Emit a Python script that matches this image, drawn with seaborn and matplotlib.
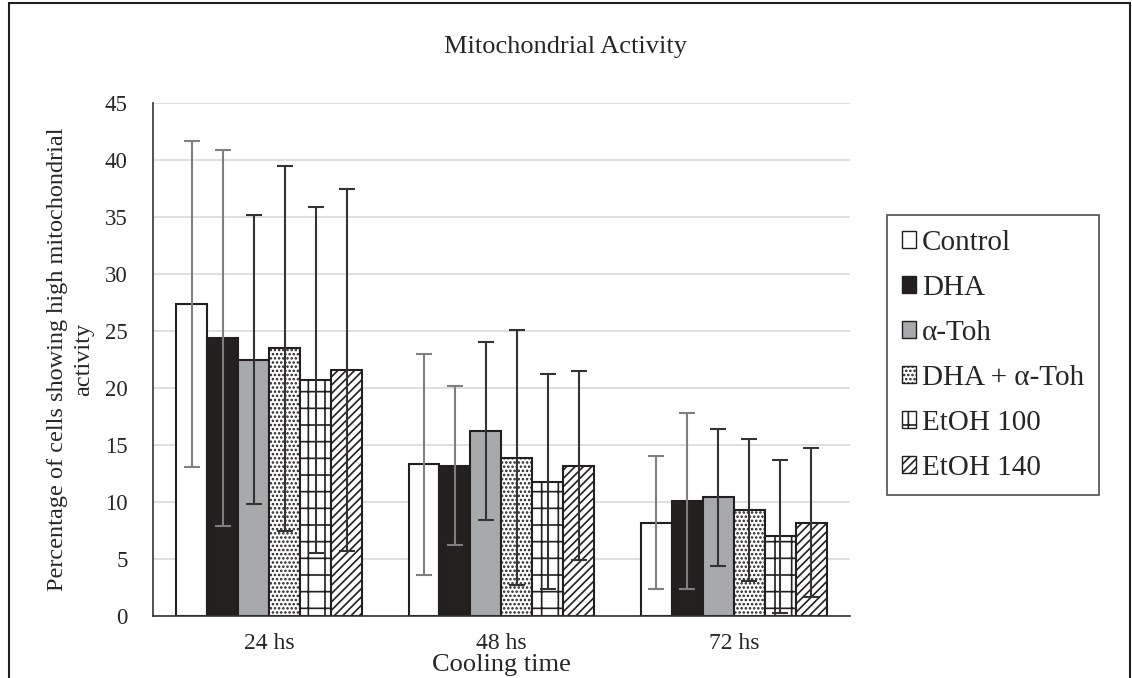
import numpy as np
import pandas as pd
import matplotlib
matplotlib.use("Agg")
import matplotlib.pyplot as plt
from matplotlib.patches import Patch, Rectangle
import seaborn as sns

# Datos
tiempos = ["24 hs", "48 hs", "72 hs"]
tratamientos = ["Control", "DHA", "α-Toh", "DHA + α-Toh", "EtOH 100", "EtOH 140"]

media_24 = [27.4, 24.4, 22.5, 23.5, 20.7, 21.6]
media_48 = [13.3, 13.2, 16.2, 13.9, 11.8, 13.2]
media_72 = [8.2, 10.1, 10.4, 9.3, 7.0, 8.2]

de_24 = [14.3, 16.5, 12.7, 16.0, 15.2, 15.9]
de_48 = [9.7, 7.0, 7.8, 11.2, 9.4, 8.3]
de_72 = [5.8, 7.7, 6.0, 6.2, 6.7, 6.5]

# Estilo de cada serie
colores = ["white", "#231f20", "#a7a9ac", "white", "white", "white"]
tramas = ["", "", "", "....", "+", "////"]
color_error = ["#7f7f7f", "#7f7f7f", "#333333", "#333333", "#333333", "#333333"]

filas = []
for t, medias, des in zip(tiempos, [media_24, media_48, media_72], [de_24, de_48, de_72]):
    for tr, m, d in zip(tratamientos, medias, des):
        filas.append({"Tiempo": t, "Tratamiento": tr, "Valor": m, "DE": d})
df = pd.DataFrame(filas)

sns.set_style("white")
plt.rcParams["font.family"] = ["Liberation Serif", "DejaVu Serif"]
plt.rcParams["hatch.linewidth"] = 1.2

fig = plt.figure(figsize=(11.32, 6.78), dpi=100)
ax = fig.add_axes([0.135, 0.0914, 0.616, 0.7566])

sns.barplot(data=df, x="Tiempo", y="Valor", hue="Tratamiento",
            hue_order=tratamientos, order=tiempos, palette=colores,
            width=0.8, gap=0, errorbar=None, edgecolor="#231f20",
            linewidth=1.5, legend=False, ax=ax, zorder=2)

contenedores = list(ax.containers)
for i, cont in enumerate(contenedores):
    sub = df[df["Tratamiento"] == tratamientos[i]].set_index("Tiempo").loc[tiempos]
    xs = []
    for barra in cont:
        barra.set_hatch(tramas[i])
        xs.append(barra.get_x() + barra.get_width() / 2)
    ax.errorbar(xs, sub["Valor"].values, yerr=sub["DE"].values, fmt="none",
                ecolor=color_error[i], elinewidth=1.5, capsize=6, capthick=1.5,
                zorder=3)

ax.set_ylim(0, 45)
ax.set_yticks(range(0, 46, 5))
ax.set_xlim(-0.5, 2.5)
ax.yaxis.grid(True, color="#d9d9d9", linewidth=1.2, zorder=0)
ax.set_axisbelow(True)
for lado in ["right", "top"]:
    ax.spines[lado].set_visible(False)
for lado in ["left", "bottom"]:
    ax.spines[lado].set_color("#333333")
    ax.spines[lado].set_linewidth(1.2)
ax.tick_params(axis="y", length=0, labelsize=16.5, pad=18)
ax.tick_params(axis="x", length=0, labelsize=17, pad=12)

ax.set_xlabel("Cooling time", fontsize=19, labelpad=0)
ax.set_ylabel("Percentage of cells showing high mitochondrial\nactivity",
              fontsize=17.5, linespacing=1.3, labelpad=8)
fig.text(0.5, 0.93, "Mitochondrial Activity", ha="center", va="center", fontsize=19)

manejadores = [Patch(facecolor=c, edgecolor="#231f20", hatch=h, linewidth=1.0, label=tr)
               for c, h, tr in zip(colores, tramas, tratamientos)]
ley = fig.legend(handles=manejadores, loc="center left", bbox_to_anchor=(0.7836, 0.476),
                 fontsize=21, frameon=True, fancybox=False, edgecolor="#231f20",
                 handlelength=0.5, handleheight=0.5, handletextpad=0.2,
                 labelspacing=0.65, borderpad=0.5, borderaxespad=0)
ley.get_frame().set_linewidth(1.2)

# Marco exterior
fig.patches.append(Rectangle((0.008, -0.01), 0.99, 1.005, transform=fig.transFigure,
                             fill=False, edgecolor="#231f20", linewidth=1.5))

fig.savefig("out.png", dpi=100)
